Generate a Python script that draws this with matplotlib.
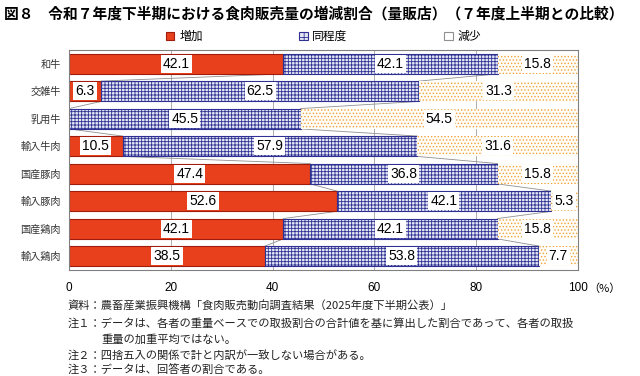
import matplotlib.pyplot as plt
from matplotlib.patches import Patch

plt.rcParams['font.family'] = ['Noto Sans CJK JP', 'DejaVu Sans']
plt.rcParams['hatch.linewidth'] = 0.6

categories = ['和牛', '交雑牛', '乳用牛', '輸入牛肉', '国産豚肉', '輸入豚肉', '国産鶏肉', '輸入鶏肉']
zouka = [42.1, 6.3, 0, 10.5, 47.4, 52.6, 42.1, 38.5]
doutei = [42.1, 62.5, 45.5, 57.9, 36.8, 42.1, 42.1, 53.8]
genshou = [15.8, 31.3, 54.5, 31.6, 15.8, 5.3, 15.8, 7.7]
series_names = ['増加', '同程度', '減少']
xticks = [0, 20, 40, 60, 80, 100]

red = '#e8401c'
blue = '#2e3192'
orange = '#f2a33a'
num_font = ['Liberation Sans', 'Noto Sans CJK JP']

fig = plt.figure(figsize=(6.4, 3.76), dpi=100)
ax = fig.add_axes([0.108, 0.282, 0.795, 0.585])

y = list(range(len(categories)))
h = 0.74
left2 = [a for a in zouka]
left3 = [a + b for a, b in zip(zouka, doutei)]

ax.barh(y, zouka, height=h, color=red, edgecolor='#a01c0c', linewidth=0.8, zorder=2)
ax.barh(y, doutei, left=left2, height=h, color='#e6e7f5', edgecolor=blue,
        hatch='+++++', linewidth=0.8, zorder=2)
ax.barh(y, genshou, left=left3, height=h, color='#fffdf8', edgecolor=orange,
        hatch='.....', linewidth=0, zorder=2)

# series lines between bars
for i in range(len(categories) - 1):
    for b in (left2, left3):
        ax.plot([b[i], b[i + 1]], [i + h / 2, i + 1 - h / 2], color='#909090', lw=0.6, zorder=1)

# value labels
box = dict(facecolor='white', edgecolor='none', pad=1.5)
for i in y:
    for val, start in ((zouka[i], 0), (doutei[i], left2[i]), (genshou[i], left3[i])):
        if val > 0:
            ax.text(start + val / 2, i, f'{val:.1f}', ha='center', va='center', fontsize=10,
                    family=num_font, bbox=box, zorder=4)

ax.set_xlim(0, 100)
ax.set_ylim(len(categories) - 0.5, -0.5)
ax.set_xticks(xticks)
ax.set_xticklabels([str(t) for t in xticks], family=num_font, fontsize=8.5)
ax.set_yticks(y)
ax.set_yticklabels(categories, fontsize=7.3, color='#333333')
ax.tick_params(length=0, pad=6)
ax.tick_params(axis='x', pad=9)
ax.xaxis.grid(True, color='#a0a0a0', lw=0.6, zorder=0)
ax.set_axisbelow(True)
for s in ax.spines.values():
    s.set_color('#808080')
    s.set_linewidth(0.8)

ax.text(1.02, -0.063, '（%）', transform=ax.transAxes, fontsize=8, va='top', ha='left')

handles = [
    Patch(facecolor=red, edgecolor='#a01c0c', lw=0.8),
    Patch(facecolor='#e6e7f5', edgecolor=blue, hatch='++', lw=0.8),
    Patch(facecolor='white', edgecolor='#909090', lw=0.8),
]
ax.legend(handles, series_names, ncol=3, loc='lower center', bbox_to_anchor=(0.5, 1.0),
          frameon=False, fontsize=8.5, handlelength=0.7, handleheight=0.7,
          handletextpad=0.4, columnspacing=8.2, borderaxespad=0.2)

fig.text(0.006, 0.965, '図８　令和７年度下半期における食肉販売量の増減割合（量販店）（７年度上半期との比較）',
         fontsize=10.6, fontweight='bold', va='center')

notes = [
    (0.105, 0.186, '資料：農畜産業振興機構「食肉販売動向調査結果（2025年度下半期公表）」'),
    (0.105, 0.141, '注１：データは、各者の重量ベースでの取扱割合の合計値を基に算出した割合であって、各者の取扱'),
    (0.158, 0.098, '重量の加重平均ではない。'),
    (0.105, 0.056, '注２：四捨五入の関係で計と内訳が一致しない場合がある。'),
    (0.105, 0.016, '注３：データは、回答者の割合である。'),
]
for x0, y0, t in notes:
    fig.text(x0, y0, t, fontsize=8.1, va='center', color='#222222')

fig.savefig('out.png', dpi=100)
